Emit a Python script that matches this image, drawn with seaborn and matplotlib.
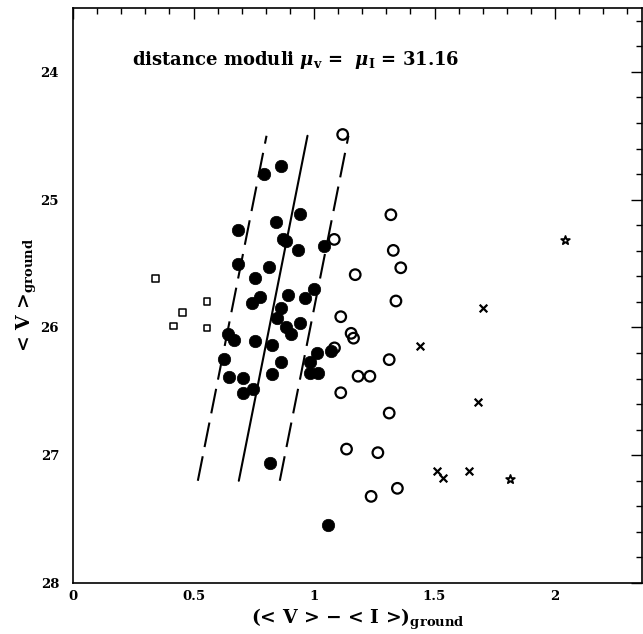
import matplotlib
matplotlib.use("Agg")
import matplotlib.pyplot as plt
import seaborn as sns
import pandas as pd
from matplotlib.ticker import MultipleLocator

# ---- data ----
filled_vi = [0.794, 0.862, 0.940, 0.843, 0.683, 0.870, 0.882, 1.041, 0.933, 0.683,
             0.812, 0.754, 1.002, 0.894, 0.775, 0.962, 0.744, 0.862, 0.846, 0.942,
             0.884, 0.904, 0.645, 0.666, 0.756, 0.824, 1.012, 1.072, 0.626, 0.864,
             0.983, 0.648, 0.706, 0.824, 0.985, 1.015, 0.746, 0.706, 0.817, 1.058]
filled_v = [24.80, 24.74, 25.115, 25.175, 25.238, 25.311, 25.327, 25.359, 25.39, 25.50,
            25.53, 25.61, 25.70, 25.745, 25.758, 25.77, 25.805, 25.846, 25.926, 25.964,
            25.995, 26.05, 26.05, 26.10, 26.106, 26.14, 26.20, 26.185, 26.25, 26.27,
            26.27, 26.385, 26.394, 26.363, 26.36, 26.356, 26.48, 26.51, 27.06, 27.547]

open_vi = [1.119, 1.319, 1.084, 1.329, 1.360, 1.171, 1.340, 1.111, 1.154, 1.164,
           1.085, 1.312, 1.183, 1.232, 1.111, 1.312, 1.135, 1.265, 1.346, 1.237]
open_v = [24.49, 25.118, 25.311, 25.397, 25.533, 25.587, 25.793, 25.916, 26.046, 26.084,
          26.16, 26.252, 26.382, 26.382, 26.511, 26.67, 26.952, 26.98, 27.259, 27.322]

square_vi = [0.343, 0.556, 0.454, 0.416, 0.556]
square_v = [25.618, 25.796, 25.884, 25.989, 26.005]

cross_vi = [1.701, 1.439, 1.679, 1.512, 1.534, 1.642]
cross_v = [25.85, 26.147, 26.587, 27.126, 27.18, 27.126]

star_vi = [2.041, 1.812]
star_v = [25.317, 27.183]

# ridge line and its +/- bounds (endpoints)
line_v = [27.2, 24.5]
ridge_vi = [0.688, 0.973]
lower_vi = [0.518, 0.803]
upper_vi = [0.858, 1.143]

title_text = r"distance moduli $\mu_{\mathbf{v}}$ =  $\mu_{\mathbf{I}}$ = 31.16"
xlabel_text = r"(< V > $-$ < I >)$_{\mathbf{ground}}$"
ylabel_text = r"< V >$_{\mathbf{ground}}$"

# ---- style ----
sns.set_style("white")
plt.rcParams["font.family"] = ["DejaVu Serif", "DejaVu Sans"]
plt.rcParams["font.weight"] = "bold"
plt.rcParams["mathtext.fontset"] = "dejavuserif"
plt.rcParams["xtick.direction"] = "in"
plt.rcParams["ytick.direction"] = "in"
for key in ["text.color", "axes.labelcolor", "xtick.color", "ytick.color",
            "axes.edgecolor"]:
    plt.rcParams[key] = "black"

fig = plt.figure(figsize=(6.43, 6.34), dpi=100)
ax = fig.add_axes([73 / 643, 1 - 583 / 634, 569 / 643, 575 / 634])

df_f = pd.DataFrame({"vi": filled_vi, "v": filled_v})
df_o = pd.DataFrame({"vi": open_vi, "v": open_v})
df_s = pd.DataFrame({"vi": square_vi, "v": square_v})
df_x = pd.DataFrame({"vi": cross_vi, "v": cross_v})
df_st = pd.DataFrame({"vi": star_vi, "v": star_v})

sns.scatterplot(data=df_f, x="vi", y="v", ax=ax, color="black", marker="o",
                s=80, edgecolor="black", linewidth=0.5, zorder=3)
sns.scatterplot(data=df_o, x="vi", y="v", ax=ax, marker="o", s=58,
                facecolor="none", edgecolor="black", linewidth=1.6, zorder=3)
sns.scatterplot(data=df_s, x="vi", y="v", ax=ax, marker="s", s=24,
                facecolor="none", edgecolor="black", linewidth=1.1, zorder=3)
sns.scatterplot(data=df_x, x="vi", y="v", ax=ax, marker="x", s=30,
                color="black", linewidth=1.6, zorder=3)
sns.scatterplot(data=df_st, x="vi", y="v", ax=ax, marker="*", s=42,
                facecolor="white", edgecolor="black", linewidth=1.3, zorder=3)

ax.plot(ridge_vi, line_v, color="black", lw=1.5, zorder=2)
ax.plot(lower_vi, line_v, color="black", lw=1.5, dashes=(12, 4.5), zorder=2)
ax.plot(upper_vi, line_v, color="black", lw=1.5, dashes=(12, 4.5), zorder=2)

ax.set_xlim(0, 569 / 241)
ax.set_ylim(28, 23.5)

ax.xaxis.set_minor_locator(MultipleLocator(0.1))
ax.yaxis.set_major_locator(MultipleLocator(1))
ax.yaxis.set_minor_locator(MultipleLocator(0.2))
ax.set_xticks([0, 0.5, 1, 1.5, 2])
ax.set_xticklabels(["0", "0.5", "1", "1.5", "2"])
ax.tick_params(which="both", top=True, right=True, direction="in", width=1.0,
               labelsize=9.5, colors="black")
ax.tick_params(axis="y", pad=10)
ax.tick_params(axis="x", pad=5)
ax.tick_params(which="major", length=8)
ax.tick_params(which="minor", length=4)
for lab in ax.get_xticklabels() + ax.get_yticklabels():
    lab.set_fontweight("bold")

for sp in ax.spines.values():
    sp.set_linewidth(1.2)
    sp.set_color("black")

ax.set_xlabel(xlabel_text, fontsize=13.5, fontweight="bold", labelpad=3,
              color="black")
ax.set_ylabel(ylabel_text, fontsize=13.5, fontweight="bold", labelpad=1,
              color="black")

ax.text(0.245, 23.906, title_text, fontsize=13, fontweight="bold",
        ha="left", va="center", color="black")

fig.savefig("out.png", dpi=100)
